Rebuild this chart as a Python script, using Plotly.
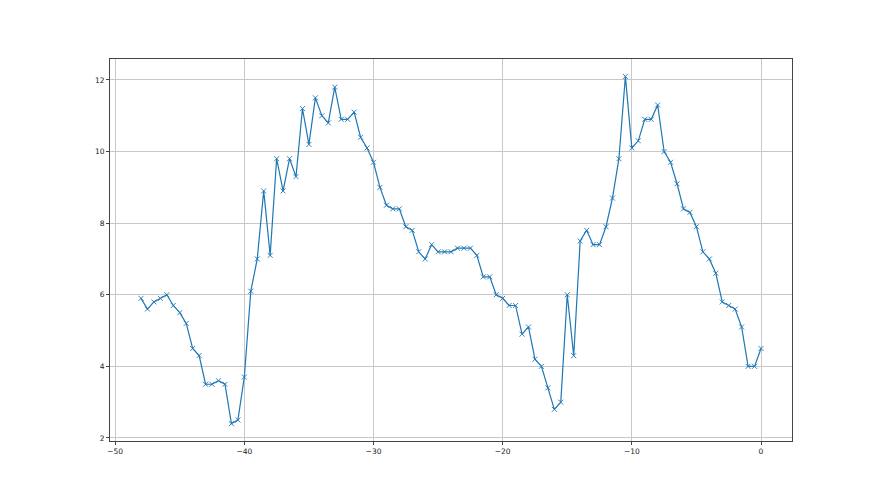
import plotly.graph_objects as go

x_values = [
    -48.0, -47.5, -47.0, -46.5, -46.0, -45.5, -45.0, -44.5, -44.0, -43.5,
    -43.0, -42.5, -42.0, -41.5, -41.0, -40.5, -40.0, -39.5, -39.0, -38.5,
    -38.0, -37.5, -37.0, -36.5, -36.0, -35.5, -35.0, -34.5, -34.0, -33.5,
    -33.0, -32.5, -32.0, -31.5, -31.0, -30.5, -30.0, -29.5, -29.0, -28.5,
    -28.0, -27.5, -27.0, -26.5, -26.0, -25.5, -25.0, -24.5, -24.0, -23.5,
    -23.0, -22.5, -22.0, -21.5, -21.0, -20.5, -20.0, -19.5, -19.0, -18.5,
    -18.0, -17.5, -17.0, -16.5, -16.0, -15.5, -15.0, -14.5, -14.0, -13.5,
    -13.0, -12.5, -12.0, -11.5, -11.0, -10.5, -10.0, -9.5, -9.0, -8.5,
    -8.0, -7.5, -7.0, -6.5, -6.0, -5.5, -5.0, -4.5, -4.0, -3.5,
    -3.0, -2.5, -2.0, -1.5, -1.0, -0.5, 0.0,
]

y_values = [
    5.9, 5.6, 5.8, 5.9, 6.0, 5.7, 5.5, 5.2, 4.5, 4.3,
    3.5, 3.5, 3.6, 3.5, 2.4, 2.5, 3.7, 6.1, 7.0, 8.9,
    7.1, 9.8, 8.9, 9.8, 9.3, 11.2, 10.2, 11.5, 11.0, 10.8,
    11.8, 10.9, 10.9, 11.1, 10.4, 10.1, 9.7, 9.0, 8.5, 8.4,
    8.4, 7.9, 7.8, 7.2, 7.0, 7.4, 7.2, 7.2, 7.2, 7.3,
    7.3, 7.3, 7.1, 6.5, 6.5, 6.0, 5.9, 5.7, 5.7, 4.9,
    5.1, 4.2, 4.0, 3.4, 2.8, 3.0, 6.0, 4.3, 7.5, 7.8,
    7.4, 7.4, 7.9, 8.7, 9.8, 12.1, 10.1, 10.3, 10.9, 10.9,
    11.3, 10.0, 9.7, 9.1, 8.4, 8.3, 7.9, 7.2, 7.0, 6.6,
    5.8, 5.7, 5.6, 5.1, 4.0, 4.0, 4.5,
]

x_ticks = [-50, -40, -30, -20, -10, 0]
y_ticks = [2, 4, 6, 8, 10, 12]

blue = "#1f77b4"

fig = go.Figure()
fig.add_trace(go.Scatter(
    x=x_values, y=y_values, mode="lines+markers",
    line=dict(color=blue, width=1.2),
    marker=dict(symbol="x-thin", size=5, color=blue, line=dict(color=blue, width=0.9)),
    showlegend=False,
))

axis_common = dict(
    showgrid=True, gridcolor="#c8c8c8", gridwidth=0.7,
    showline=True, linecolor="#444444", linewidth=0.8, mirror=True,
    ticks="outside", ticklen=3, tickwidth=0.8, tickcolor="#444444",
    zeroline=False,
    tickfont=dict(family="DejaVu Sans", size=7.5, color="#222222"),
)

fig.update_layout(
    width=880, height=495,
    margin=dict(l=102, r=96, t=51, b=62),
    paper_bgcolor="white", plot_bgcolor="white",
    xaxis=dict(range=[-50.4, 2.4], tickvals=x_ticks, **axis_common),
    yaxis=dict(range=[1.915, 12.585], tickvals=y_ticks, **axis_common),
)

fig.write_html("out.html")
